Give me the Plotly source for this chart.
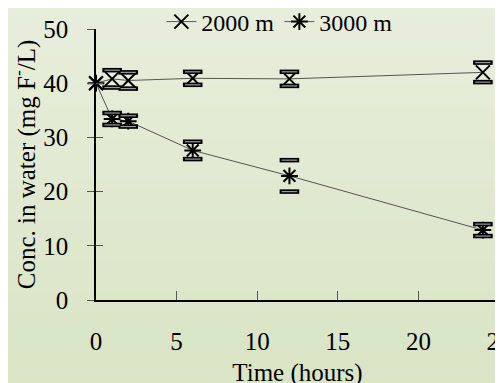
import plotly.graph_objects as go

time_h = [0, 1, 2, 6, 12, 24]
conc_2000 = [40.0, 40.8, 40.5, 40.9, 40.8, 42.0]
err_2000 = [0.0, 1.6, 1.5, 1.2, 1.3, 1.8]
conc_3000 = [40.0, 33.4, 33.0, 27.6, 22.9, 12.9]
err_3000 = [0.0, 1.1, 1.0, 1.6, 2.9, 1.1]
x_ticks = [0, 5, 10, 15, 20, 25]
y_ticks = [0, 10, 20, 30, 40, 50]

W, H = 503, 383
ML, MR, MT, MB = 88, 12, 21, 91
FONT = "Times New Roman, Liberation Serif, serif"
TF = dict(family=FONT, size=25, color="black")

fig = go.Figure()


def caps(xs, ys, es):
    cx, cy = [], []
    for x, y, e in zip(xs, ys, es):
        if e > 0:
            cx += [x, x]
            cy += [y - e, y + e]
    return cx, cy


for name, ys, es, sym in [("2000 m", conc_2000, err_2000, "x-thin-open"),
                          ("3000 m", conc_3000, err_3000, "asterisk-open")]:
    fig.add_trace(go.Scatter(
        x=time_h, y=ys, name=name, mode="lines+markers",
        line=dict(color="#555555", width=1),
        marker=dict(symbol=sym, size=14, color="black",
                    line=dict(color="black", width=2)),
        cliponaxis=False,
    ))
    cx, cy = caps(time_h, ys, es)
    fig.add_trace(go.Scatter(
        x=cx, y=cy, mode="markers", showlegend=False, hoverinfo="skip",
        marker=dict(symbol="line-ew-open", size=14, color="black",
                    line=dict(color="black", width=4.5)),
        cliponaxis=False,
    ))
    fig.add_trace(go.Scatter(
        x=cx, y=cy, mode="markers", showlegend=False, hoverinfo="skip",
        marker=dict(symbol="line-ew-open", size=11, color="#9a9a9a",
                    line=dict(color="#9a9a9a", width=1.2)),
        cliponaxis=False,
    ))

fig.add_trace(go.Scatter(x=[None], y=[None], yaxis="y2", showlegend=False,
                         hoverinfo="skip"))

# background gradient bands
pw = W - ML - MR
ph = H - MT - MB
x0 = -ML / pw - 0.05
x1 = 1 + MR / pw + 0.05
yb = -MB / ph - 0.05
yt = 1 + MT / ph + 0.05
n = 40
top = (232, 238, 220)
bot = (216, 228, 196)
shapes = []
for i in range(n):
    f = i / (n - 1)
    c = tuple(round(bot[k] + (top[k] - bot[k]) * f) for k in range(3))
    y0 = yb + (yt - yb) * i / n
    y1 = yb + (yt - yb) * (i + 1) / n + 0.005
    shapes.append(dict(type="rect", xref="paper", yref="paper",
                       x0=x0, x1=x1, y0=y0, y1=y1, layer="below",
                       line=dict(width=0), fillcolor="rgb(%d,%d,%d)" % c))

fig.update_layout(
    template="none",
    width=W, height=H,
    margin=dict(l=ML, r=MR, t=MT, b=MB, pad=0, autoexpand=False),
    paper_bgcolor="rgb(224,233,208)",
    plot_bgcolor="rgba(0,0,0,0)",
    shapes=shapes,
    font=dict(family=FONT, size=25, color="black"),
    showlegend=True,
    legend=dict(orientation="h", x=0.455, xanchor="center", y=1 - 14 / H,
                yref="container", yanchor="middle", bgcolor="rgba(0,0,0,0)",
                font=dict(family=FONT, size=24, color="black"), itemwidth=30,
                tracegroupgap=0),
    xaxis=dict(range=[0, 25], tickvals=x_ticks, ticks="inside", ticklen=9,
               tickcolor="#555555", showline=True, linecolor="black",
               linewidth=1.5, showgrid=False, zeroline=False,
               ticklabelstandoff=18, automargin=False, tickfont=TF,
               ticklabeloverflow="allow",
               title=dict(text="Time (hours)", standoff=10, font=TF)),
    yaxis=dict(range=[0, 50], tickvals=y_ticks, ticks="outside", ticklen=7,
               tickcolor="#555555", showline=True, linecolor="black",
               linewidth=1.5, showgrid=False, zeroline=False,
               ticklabelstandoff=14, automargin=False, tickfont=TF,
               ticklabeloverflow="allow",
               title=dict(text="Conc. in water (mg F<sup>-</sup>/L)", standoff=10,
                          font=TF)),
    yaxis2=dict(range=[0, 50], tickvals=y_ticks, ticks="inside", ticklen=7,
                tickcolor="#555555", overlaying="y", side="left", anchor="x",
                showticklabels=False, showline=False, showgrid=False,
                zeroline=False, automargin=False),
)

fig.write_html("out.html")
